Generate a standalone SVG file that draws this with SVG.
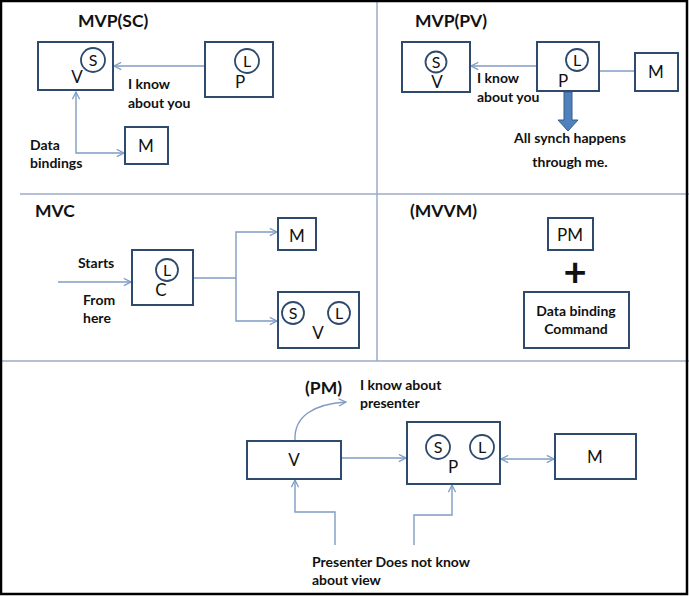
<svg xmlns="http://www.w3.org/2000/svg" width="689" height="596" viewBox="0 0 689 596">
<defs>
<marker id="arr" viewBox="0 0 10 10" refX="9" refY="5" markerWidth="9" markerHeight="9" markerUnits="userSpaceOnUse" orient="auto-start-reverse">
<path d="M1,1 L9,5 L1,9" fill="none" stroke="#7f9cc4" stroke-width="1.4"/>
</marker>
<style>
.box{fill:#fff;stroke:#2e4a6d;stroke-width:2}
.circ{fill:#fff;stroke:#2e4a6d;stroke-width:1.8}
.con{fill:none;stroke:#7f9cc4;stroke-width:1.4}
.div{stroke:#9aabc8;stroke-width:1.5}
.t{font-family:Lato,"Liberation Sans",sans-serif;fill:#111}
.title{font-size:17.5px;font-weight:bold}
.lbl{font-size:14px;font-weight:bold}
.let{font-size:17px;text-anchor:middle}
.sm{font-size:16px;text-anchor:middle}
</style>
</defs>
<rect x="0" y="0" width="689" height="596" fill="#fff"/>
<g id="dividers">
<line class="div" x1="377" y1="0" x2="377" y2="361"/>
<line class="div" x1="20" y1="194" x2="689" y2="194"/>
<line class="div" x1="2" y1="361" x2="689" y2="361"/>
</g>
<rect x="1" y="1" width="686" height="593" fill="none" stroke="#000" stroke-width="2.5"/>

<g id="connectors">
<line class="con" x1="205" y1="66" x2="114" y2="66" marker-end="url(#arr)"/>
<path class="con" d="M76,92 V153 H124" marker-start="url(#arr)" marker-end="url(#arr)"/>
<line class="con" x1="537" y1="66" x2="471" y2="66" marker-end="url(#arr)"/>
<line class="con" x1="599" y1="71" x2="635" y2="71"/>
<polygon points="564,92 572,92 572,120 578,120 568,131 558,120 564,120" fill="#4f81bd" stroke="#385d8a" stroke-width="1"/>
<line class="con" x1="58" y1="282" x2="131" y2="282" marker-end="url(#arr)"/>
<path class="con" d="M193,278 H236"/>
<path class="con" d="M277,232 H236 V321 H277" marker-start="url(#arr)" marker-end="url(#arr)"/>
<line class="con" x1="341" y1="458" x2="406" y2="458" marker-end="url(#arr)"/>
<line class="con" x1="501" y1="459" x2="554" y2="459" marker-start="url(#arr)" marker-end="url(#arr)"/>
<path class="con" d="M335,545 V512 H295 V480" marker-end="url(#arr)"/>
<path class="con" d="M414,545 V515 H452 V485" marker-end="url(#arr)"/>
<path class="con" d="M295,440 C294,416 314,404 346,402" marker-end="url(#arr)"/>
</g>

<g id="labels">
<text class="t title" x="78" y="27">MVP(SC)</text>
<text class="t lbl" x="128" y="89">I know</text>
<text class="t lbl" x="128" y="108">about you</text>
<text class="t lbl" x="30" y="150">Data</text>
<text class="t lbl" x="30" y="168">bindings</text>
<text class="t title" x="415" y="27">MVP(PV)</text>
<text class="t lbl" x="477" y="83">I know</text>
<text class="t lbl" x="477" y="102">about you</text>
<text class="t lbl" x="570" y="143" text-anchor="middle">All synch happens</text>
<text class="t lbl" x="570" y="167" text-anchor="middle">through me.</text>
<text class="t title" x="35" y="217">MVC</text>
<text class="t lbl" x="78" y="268">Starts</text>
<text class="t lbl" x="83" y="305">From</text>
<text class="t lbl" x="83" y="323">here</text>
<text class="t title" x="410" y="217">(MVVM)</text>
<text class="t" x="575" y="286" font-size="40" font-weight="bold" text-anchor="middle">+</text>
<text class="t title" x="305" y="394">(PM)</text>
<text class="t lbl" x="360" y="390">I know about</text>
<text class="t lbl" x="360" y="408">presenter</text>
<text class="t lbl" x="312" y="567">Presenter Does not know</text>
<text class="t lbl" x="312" y="585">about view</text>
</g>

<g id="sc-v">
<rect class="box" x="38" y="42" width="75" height="48"/>
<circle class="circ" cx="93" cy="60" r="12"/>
<text class="t sm" x="93" y="66">S</text>
<text class="t let" x="77" y="83">V</text>
</g>
<g id="sc-p">
<rect class="box" x="205" y="42" width="68" height="55"/>
<circle class="circ" cx="247" cy="61" r="12"/>
<text class="t sm" x="247" y="67">L</text>
<text class="t let" x="240" y="88">P</text>
</g>
<g id="sc-m">
<rect class="box" x="125" y="127" width="43" height="37"/>
<text class="t let" x="146" y="152">M</text>
</g>

<g id="pv-v">
<rect class="box" x="402" y="42" width="68" height="50"/>
<circle class="circ" cx="436" cy="62" r="10.5"/>
<text class="t sm" x="436" y="67.5">S</text>
<text class="t let" x="437" y="88">V</text>
</g>
<g id="pv-p">
<rect class="box" x="537" y="42" width="62" height="49"/>
<circle class="circ" cx="577" cy="60" r="11"/>
<text class="t sm" x="577" y="66">L</text>
<text class="t let" x="563" y="87">P</text>
</g>
<g id="pv-m">
<rect class="box" x="635" y="53" width="43" height="38"/>
<text class="t let" x="656" y="78">M</text>
</g>

<g id="mvc-c">
<rect class="box" x="132" y="250" width="61" height="55"/>
<circle class="circ" cx="167" cy="270" r="11"/>
<text class="t sm" x="167" y="276">L</text>
<text class="t let" x="161" y="296">C</text>
</g>
<g id="mvc-m">
<rect class="box" x="278" y="218" width="38" height="32"/>
<text class="t let" x="297" y="242">M</text>
</g>
<g id="mvc-v">
<rect class="box" x="278" y="292" width="81" height="56"/>
<circle class="circ" cx="293" cy="313" r="11"/>
<text class="t sm" x="293" y="319">S</text>
<circle class="circ" cx="339" cy="313" r="11"/>
<text class="t sm" x="339" y="319">L</text>
<text class="t let" x="318" y="339">V</text>
</g>

<g id="mvvm-pm">
<rect class="box" x="548" y="218" width="45" height="32"/>
<text class="t let" x="570" y="241">PM</text>
</g>
<g id="mvvm-cmd">
<rect class="box" x="524" y="292" width="105" height="56"/>
<text class="t lbl" x="576" y="316" text-anchor="middle">Data binding</text>
<text class="t lbl" x="576" y="334" text-anchor="middle">Command</text>
</g>

<g id="pm-v">
<rect class="box" x="247" y="441" width="94" height="38"/>
<text class="t let" x="294" y="466">V</text>
</g>
<g id="pm-p">
<rect class="box" x="407" y="422" width="93" height="62"/>
<circle class="circ" cx="438" cy="447" r="12"/>
<text class="t sm" x="438" y="453">S</text>
<circle class="circ" cx="482" cy="447" r="12"/>
<text class="t sm" x="482" y="453">L</text>
<text class="t let" x="453" y="473">P</text>
</g>
<g id="pm-m">
<rect class="box" x="555" y="434" width="81" height="45"/>
<text class="t let" x="595" y="463">M</text>
</g>
</svg>
